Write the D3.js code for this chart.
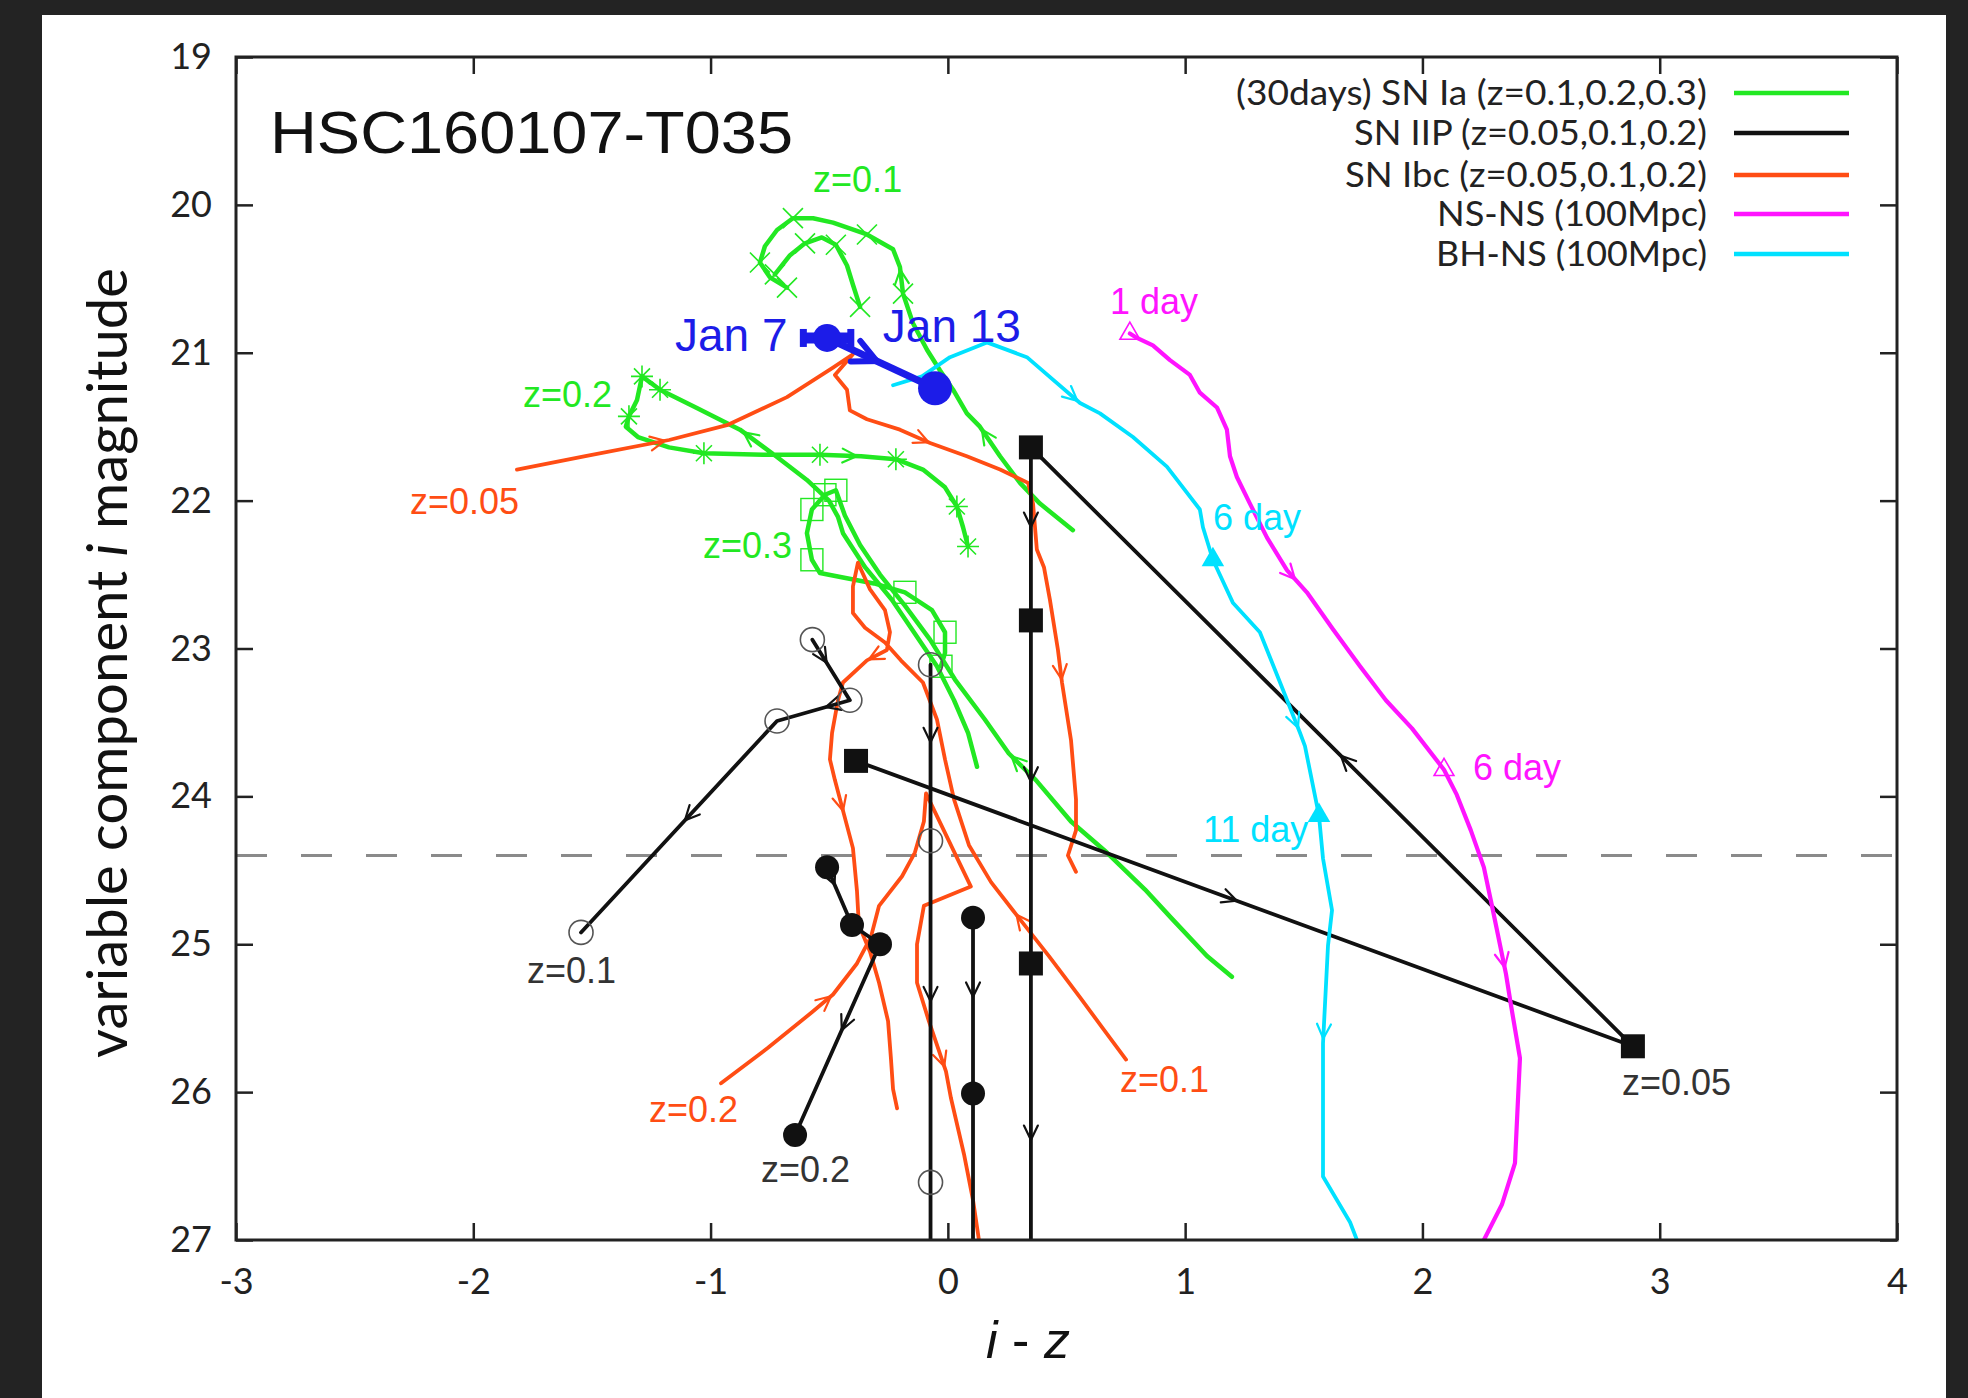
<!DOCTYPE html>
<html>
<head>
<meta charset="utf-8">
<script src="https://cdn.jsdelivr.net/npm/d3@7"></script>
<style>
  body { margin: 0; background: #232323; }
  svg { display: block; }
  text { font-family: "Liberation Sans", Arial, sans-serif; }
  .tick text { font-family: Lato, "Open Sans", sans-serif; fill: #222; }
</style>
</head>
<body>
<svg id="chart" width="1968" height="1398"></svg>
<script>
// ---- data (i - z colour, i magnitude) ----
const xTicks = [-3, -2, -1, 0, 1, 2, 3, 4];
const yTicks = [19, 20, 21, 22, 23, 24, 25, 26, 27];
const limitMag = 24.4;

const legendLabels = ['(30days) SN Ia (z=0.1,0.2,0.3)', 'SN IIP (z=0.05,0.1,0.2)',
  'SN Ibc (z=0.05,0.1,0.2)', 'NS-NS (100Mpc)', 'BH-NS (100Mpc)'];

// SN Ia, z=0.1 (two arcs)
const iaZ01Outer = [[0.527,22.20],[0.388,22.02],[0.304,21.88],[0.220,21.70],[0.135,21.50],[0.080,21.41],
  [0.022,21.25],[-0.033,21.12],[-0.088,20.98],[-0.147,20.80],[-0.189,20.60],[-0.202,20.42],[-0.231,20.30],
  [-0.341,20.20],[-0.484,20.12],[-0.568,20.09],[-0.653,20.09],[-0.720,20.17],[-0.771,20.28],[-0.792,20.39],
  [-0.750,20.49],[-0.678,20.56]];
const iaZ01OuterMarks = [10, 13, 16, 19, 21];
const iaZ01OuterArrows = [[3, 0.9], [10, 0.9]];
const iaZ01Inner = [[-0.729,20.47],[-0.665,20.34],[-0.602,20.26],[-0.531,20.22],[-0.472,20.27],
  [-0.425,20.41],[-0.400,20.54],[-0.370,20.69]];
const iaZ01InnerMarks = [0, 2, 4, 7];

// SN Ia, z=0.2
const iaZ02 = [[0.123,23.80],[0.085,23.57],[0.026,23.35],[-0.046,23.12],[-0.143,22.89],[-0.236,22.67],
  [-0.349,22.45],[-0.442,22.22],[-0.463,22.11],[-0.501,22.00],[-0.594,21.86],[-0.724,21.70],[-0.876,21.52],
  [-1.062,21.37],[-1.213,21.25],[-1.289,21.16],[-1.310,21.32],[-1.344,21.43],[-1.357,21.50],[-1.306,21.57],
  [-1.175,21.64],[-1.028,21.68],[-0.779,21.69],[-0.539,21.69],[-0.366,21.70],[-0.219,21.72],[-0.105,21.79],
  [-0.012,21.91],[0.038,22.04],[0.064,22.18],[0.085,22.31]];
const iaZ02Marks = [14, 15, 17, 21, 23, 25, 28, 30];
const iaZ02Arrows = [[11, 0.9], [23, 0.9]];

// SN Ia, z=0.3
const iaZ03 = [[1.197,25.22],[1.092,25.08],[0.940,24.82],[0.831,24.63],[0.670,24.38],[0.519,24.17],
  [0.371,23.89],[0.257,23.71],[0.156,23.48],[0.030,23.21],[-0.075,22.94],[-0.181,22.71],[-0.286,22.50],
  [-0.370,22.30],[-0.434,22.10],[-0.472,21.93],[-0.518,21.96],[-0.573,22.06],[-0.594,22.22],[-0.573,22.40],
  [-0.539,22.49],[-0.442,22.52],[-0.311,22.56],[-0.181,22.62],[-0.067,22.74],[-0.012,22.89],[-0.012,23.03],
  [-0.029,23.12]];
const iaZ03Marks = [15, 16, 17, 19, 23, 25, 27];
const iaZ03Arrows = [[6, 0.9]];

// SN IIP
const iipZ005 = [[-0.387,23.76],[2.887,25.69],[0.350,21.64],[0.350,22.81],[0.350,25.13],[0.350,27.3]];
const iipZ005Marks = [0, 1, 2, 3, 4];
const iipZ005Arrows = [[0, 0.49], [1, 0.485], [2, 0.46], [3, 0.47], [4, 0.55]];
const iipZ01a = [[-0.571,22.94],[-0.413,23.35],[-0.720,23.49],[-1.546,24.92]];
const iipZ01aArrows = [[0, 0.38], [1, 0.33], [2, 0.47]];
const iipZ01b = [[-0.073,23.11],[-0.073,24.30],[-0.073,26.61],[-0.073,27.3]];
const iipZ01bArrows = [[0, 0.44], [1, 0.47]];
const iipZ02a = [[-0.509,24.48],[-0.404,24.87],[-0.286,25.00],[-0.644,26.29]];
const iipZ02aArrows = [[0, 0.3], [2, 0.45]];
const iipZ02b = [[0.106,24.82],[0.106,26.01],[0.106,27.3]];
const iipZ02bArrows = [[0, 0.45]];

// SN Ibc
const ibcZ005 = [[-1.816,21.79],[-1.533,21.70],[-1.175,21.59],[-0.931,21.49],[-0.678,21.30],[-0.484,21.10],
  [-0.400,21.01],[-0.476,21.15],[-0.425,21.25],[-0.413,21.39],[-0.341,21.45],[-0.202,21.52],[-0.075,21.61],
  [0.080,21.70],[0.220,21.79],[0.338,21.88],[0.359,22.02],[0.375,22.33],[0.405,22.45],[0.430,22.67],
  [0.464,23.01],[0.481,23.23],[0.519,23.62],[0.540,24.02],[0.540,24.23],[0.506,24.40],[0.540,24.51]];
const ibcZ005Arrows = [[1, 0.95], [11, 0.95], [20, 0.9]];
const ibcZ01 = [[0.751,25.78],[0.654,25.57],[0.557,25.36],[0.426,25.08],[0.274,24.77],[0.182,24.58],
  [0.089,24.33],[0.026,24.02],[-0.012,23.75],[-0.046,23.48],[-0.105,23.23],[-0.198,23.08],[-0.265,22.96],
  [-0.349,22.86],[-0.400,22.76],[-0.400,22.58],[-0.379,22.42],[-0.328,22.60],[-0.265,22.74],[-0.244,22.89],
  [-0.257,23.01],[-0.341,23.08],[-0.442,23.23],[-0.463,23.35],[-0.488,23.57],[-0.497,23.75],[-0.476,23.89],
  [-0.438,24.12],[-0.400,24.35],[-0.383,24.64],[-0.375,24.87],[-0.328,25.05],[-0.290,25.26],[-0.252,25.52],
  [-0.240,25.77],[-0.231,25.98],[-0.214,26.11]];
const ibcZ01Arrows = [[3, 0.9], [20, 0.9], [26, 0.9]];
const ibcZ02 = [[-0.956,25.94],[-0.758,25.70],[-0.573,25.46],[-0.484,25.34],[-0.383,25.13],[-0.324,24.95],
  [-0.290,24.74],[-0.193,24.54],[-0.139,24.38],[-0.101,24.17],[-0.092,23.98],[0.097,24.61],[-0.101,24.74],
  [-0.130,25.00],[-0.130,25.26],[-0.080,25.52],[-0.008,25.86],[0.013,26.04],[0.068,26.42],[0.106,26.73],
  [0.131,27.0]];
const ibcZ02Arrows = [[2, 0.9], [15, 0.9]];

// kilonovae at 100 Mpc
const nsns = [[0.767,20.87],[0.797,20.90],[0.864,20.95],[0.936,21.05],[1.020,21.15],[1.062,21.27],
  [1.134,21.37],[1.176,21.52],[1.189,21.70],[1.218,21.84],[1.273,22.02],[1.345,22.25],[1.429,22.47],
  [1.513,22.62],[1.623,22.87],[1.737,23.12],[1.846,23.35],[1.956,23.54],[2.091,23.82],[2.145,23.99],
  [2.204,24.23],[2.259,24.48],[2.297,24.77],[2.352,25.20],[2.373,25.41],[2.411,25.77],[2.390,26.48],
  [2.335,26.76],[2.259,27.0]];
const nsnsMarks = [0, 18];
const nsnsArrows = [[12, 0.4], [22, 0.9]];
const bhns = [[-0.231,21.22],[-0.109,21.16],[0.009,21.03],[0.165,20.93],[0.333,21.03],[0.557,21.34],
  [0.641,21.41],[0.780,21.57],[0.923,21.77],[1.062,22.06],[1.075,22.18],[1.117,22.40],[1.201,22.69],
  [1.315,22.89],[1.400,23.23],[1.484,23.57],[1.505,23.66],[1.564,24.13],[1.581,24.42],[1.619,24.77],
  [1.602,25.01],[1.581,25.67],[1.581,26.57],[1.695,26.88],[1.724,27.0]];
const bhnsMarks = [11, 17];
const bhnsArrows = [[4, 0.95], [14, 0.9], [20, 0.95]];

// HSC160107-T035 observations
const obsDates = ['Jan 7', 'Jan 13'];
const obsColour = [-0.509, -0.054];
const obsMag = [20.90, 21.24];
const obsColourErr = [0.10, 0];

// text labels placed at data coordinates
const trackLabels = [
  { text: 'z=0.1', x: -0.568, y: 19.91, c: 'green' },
  { text: 'z=0.2', x: -1.791, y: 21.37, c: 'green' },
  { text: 'z=0.3', x: -1.032, y: 22.39, c: 'green' },
  { text: 'z=0.05', x: -2.267, y: 22.09, c: 'orange' },
  { text: 'z=0.1', x: 0.725, y: 26.00, c: 'orange' },
  { text: 'z=0.2', x: -1.260, y: 26.20, c: 'orange' },
  { text: 'z=0.1', x: -1.774, y: 25.26, c: 'grey' },
  { text: 'z=0.2', x: -0.788, y: 26.61, c: 'grey' },
  { text: 'z=0.05', x: 2.841, y: 26.02, c: 'grey' },
  { text: '1 day', x: 0.683, y: 20.74, c: 'magenta' },
  { text: '6 day', x: 2.213, y: 23.89, c: 'magenta' },
  { text: '6 day', x: 1.117, y: 22.20, c: 'cyan' },
  { text: '11 day', x: 1.075, y: 24.31, c: 'cyan' }
];

// ---- styles ----
const C = { green: '#22e822', black: '#111', orange: '#ff4d14', magenta: '#ff14ff',
  cyan: '#00e1ff', blue: '#1c1ce8', grey: '#333' };
const legendColors = [C.green, C.black, C.orange, C.magenta, C.cyan];

const svg = d3.select('#chart');
svg.append('rect').attr('width', 1968).attr('height', 1398).attr('fill', '#232323');
svg.append('rect').attr('x', 42).attr('y', 15).attr('width', 1904).attr('height', 1383).attr('fill', '#fff');

const x = d3.scaleLinear().domain([-3, 4]).range([236, 1897]);
const y = d3.scaleLinear().domain([19, 27]).range([57, 1240]);

svg.append('clipPath').attr('id', 'plotClip').append('rect')
  .attr('x', x(-3)).attr('y', y(19)).attr('width', x(4) - x(-3)).attr('height', y(27) - y(19));
const plot = svg.append('g').attr('clip-path', 'url(#plotClip)');

// detection limit
plot.append('line')
  .attr('x1', x(-3)).attr('x2', x(4)).attr('y1', y(limitMag)).attr('y2', y(limitMag))
  .attr('stroke', '#8a8a8a').attr('stroke-width', 3).attr('stroke-dasharray', '31,34');

const line = d3.line().x(d => x(d[0])).y(d => y(d[1]));

function chevron(g, pts, seg, t, color, w, len) {
  const a = pts[seg], b = pts[seg + 1];
  const ax = x(a[0]), ay = y(a[1]), bx = x(b[0]), by = y(b[1]);
  const px = ax + (bx - ax) * t, py = ay + (by - ay) * t;
  const ang = Math.atan2(by - ay, bx - ax), s = 0.45;
  const p1 = [px - len * Math.cos(ang - s), py - len * Math.sin(ang - s)];
  const p2 = [px - len * Math.cos(ang + s), py - len * Math.sin(ang + s)];
  g.append('path').attr('d', `M${p1}L${px},${py}L${p2}`)
    .attr('fill', 'none').attr('stroke', color).attr('stroke-width', w)
    .attr('stroke-linecap', 'round').attr('stroke-linejoin', 'miter');
}

function marker(g, d, kind, color) {
  const cx = x(d[0]), cy = y(d[1]);
  if (kind === 'cross') {
    const s = 10;
    g.append('path').attr('d', `M${cx - s},${cy - s}L${cx + s},${cy + s}M${cx - s},${cy + s}L${cx + s},${cy - s}`)
      .attr('stroke', color).attr('stroke-width', 1.6);
  } else if (kind === 'star') {
    const s = 8, r = 11;
    g.append('path').attr('d', `M${cx - s},${cy - s}L${cx + s},${cy + s}M${cx - s},${cy + s}L${cx + s},${cy - s}M${cx - r},${cy}L${cx + r},${cy}M${cx},${cy - r}L${cx},${cy + r}`)
      .attr('stroke', color).attr('stroke-width', 1.6);
  } else if (kind === 'square') {
    g.append('rect').attr('x', cx - 11).attr('y', cy - 11).attr('width', 22).attr('height', 22)
      .attr('fill', 'none').attr('stroke', color).attr('stroke-width', 1.4);
  } else if (kind === 'fsquare') {
    g.append('rect').attr('x', cx - 12).attr('y', cy - 12).attr('width', 24).attr('height', 24).attr('fill', color);
  } else if (kind === 'ocircle') {
    g.append('circle').attr('cx', cx).attr('cy', cy).attr('r', 12)
      .attr('fill', 'none').attr('stroke', '#555').attr('stroke-width', 1.6);
  } else if (kind === 'fcircle') {
    g.append('circle').attr('cx', cx).attr('cy', cy).attr('r', 12).attr('fill', color);
  } else if (kind === 'otri') {
    g.append('path').attr('d', d3.symbol(d3.symbolTriangle, 170)())
      .attr('transform', `translate(${cx},${cy})`)
      .attr('fill', 'none').attr('stroke', color).attr('stroke-width', 1.6);
  } else if (kind === 'ftri') {
    g.append('path').attr('d', d3.symbol(d3.symbolTriangle, 220)())
      .attr('transform', `translate(${cx},${cy})`).attr('fill', color);
  }
}

const tracks = [
  { pts: iaZ01Outer, color: C.green, w: 4.5, marks: iaZ01OuterMarks, kind: 'cross', arrows: iaZ01OuterArrows },
  { pts: iaZ01Inner, color: C.green, w: 4.5, marks: iaZ01InnerMarks, kind: 'cross', arrows: [] },
  { pts: iaZ02, color: C.green, w: 4.5, marks: iaZ02Marks, kind: 'star', arrows: iaZ02Arrows },
  { pts: iaZ03, color: C.green, w: 4.5, marks: iaZ03Marks, kind: 'square', arrows: iaZ03Arrows },
  { pts: ibcZ005, color: C.orange, w: 3.8, marks: [], kind: null, arrows: ibcZ005Arrows },
  { pts: ibcZ01, color: C.orange, w: 3.8, marks: [], kind: null, arrows: ibcZ01Arrows },
  { pts: ibcZ02, color: C.orange, w: 3.8, marks: [], kind: null, arrows: ibcZ02Arrows },
  { pts: iipZ01a, color: C.black, w: 3.8, marks: [0, 1, 2, 3], kind: 'ocircle', arrows: iipZ01aArrows },
  { pts: iipZ01b, color: C.black, w: 3.8, marks: [0, 1, 2], kind: 'ocircle', arrows: iipZ01bArrows },
  { pts: iipZ02a, color: C.black, w: 3.8, marks: [0, 1, 2, 3], kind: 'fcircle', arrows: iipZ02aArrows },
  { pts: iipZ02b, color: C.black, w: 3.8, marks: [0, 1], kind: 'fcircle', arrows: iipZ02bArrows },
  { pts: iipZ005, color: C.black, w: 3.8, marks: iipZ005Marks, kind: 'fsquare', arrows: iipZ005Arrows },
  { pts: bhns, color: C.cyan, w: 3.8, marks: bhnsMarks, kind: 'ftri', arrows: bhnsArrows },
  { pts: nsns, color: C.magenta, w: 4.2, marks: nsnsMarks, kind: 'otri', arrows: nsnsArrows }
];

tracks.forEach(tr => {
  const g = plot.append('g');
  g.append('path').attr('d', line(tr.pts)).attr('fill', 'none')
    .attr('stroke', tr.color).attr('stroke-width', tr.w)
    .attr('stroke-linejoin', 'round').attr('stroke-linecap', 'round');
  tr.arrows.forEach(([i, t]) => chevron(g, tr.pts, i, t, tr.color, 2.2, 16));
  tr.marks.forEach(i => marker(g, tr.pts[i], tr.kind, tr.color));
});

// observed colour evolution
const obs = obsDates.map((d, i) => [obsColour[i], obsMag[i]]);
const og = plot.append('g');
og.append('path').attr('d', line(obs)).attr('stroke', C.blue).attr('stroke-width', 7).attr('fill', 'none');
chevron(og, obs, 0, 0.46, C.blue, 6, 26);
obs.forEach((d, i) => {
  if (obsColourErr[i] > 0) {
    const yy = y(d[1]), x0 = x(d[0] - obsColourErr[i]), x1 = x(d[0] + obsColourErr[i]);
    og.append('line').attr('x1', x0).attr('x2', x1).attr('y1', yy).attr('y2', yy)
      .attr('stroke', C.blue).attr('stroke-width', 11);
    [x0, x1].forEach(xx => og.append('line').attr('x1', xx).attr('x2', xx)
      .attr('y1', yy - 9).attr('y2', yy + 9).attr('stroke', C.blue).attr('stroke-width', 7));
  }
  og.append('circle').attr('cx', x(d[0])).attr('cy', y(d[1])).attr('r', i === 0 ? 14 : 17).attr('fill', C.blue);
});

// axes
const fmt = d => String(d);
const axB = svg.append('g').attr('transform', `translate(0,${y(27)})`)
  .call(d3.axisBottom(x).tickValues(xTicks).tickFormat(fmt).tickSize(-17).tickPadding(28));
const axT = svg.append('g').attr('transform', `translate(0,${y(19)})`)
  .call(d3.axisTop(x).tickValues(xTicks).tickFormat('').tickSize(-17));
const axL = svg.append('g').attr('transform', `translate(${x(-3)},0)`)
  .call(d3.axisLeft(y).tickValues(yTicks).tickFormat(fmt).tickSize(-17).tickPadding(24));
const axR = svg.append('g').attr('transform', `translate(${x(4)},0)`)
  .call(d3.axisRight(y).tickValues(yTicks).tickFormat('').tickSize(-17));
[axB, axT, axL, axR].forEach(a => {
  a.select('.domain').remove();
  a.selectAll('.tick line').attr('stroke', '#222').attr('stroke-width', 2.5);
  a.selectAll('.tick text').attr('font-size', 36);
});

svg.append('rect').attr('x', x(-3)).attr('y', y(19)).attr('width', x(4) - x(-3)).attr('height', y(27) - y(19))
  .attr('fill', 'none').attr('stroke', '#222').attr('stroke-width', 3);

// axis titles
svg.append('text').attr('x', 1028).attr('y', 1358).attr('text-anchor', 'middle')
  .attr('font-size', 52).attr('fill', '#111')
  .html('<tspan font-style="italic">i</tspan> - <tspan font-style="italic">z</tspan>');
svg.append('text').attr('transform', 'translate(127,663) rotate(-90)').attr('text-anchor', 'middle')
  .attr('font-size', 56).attr('fill', '#111').attr('textLength', 790).attr('lengthAdjust', 'spacingAndGlyphs')
  .style('font-family', 'Lato, sans-serif')
  .html('variable component <tspan font-style="italic">i</tspan> magnitude');

// title
svg.append('text').attr('x', 270).attr('y', 153).attr('font-size', 60).attr('fill', '#111')
  .attr('textLength', 523).attr('lengthAdjust', 'spacingAndGlyphs').text('HSC160107-T035');

// legend
const legendTextWidths = [471, 353, 362, 270, 271];
const legendRowY = [93, 133, 175, 214, 254];
const lg = svg.append('g');
legendLabels.forEach((lab, i) => {
  lg.append('line').attr('x1', 1734).attr('x2', 1849).attr('y1', legendRowY[i]).attr('y2', legendRowY[i])
    .attr('stroke', legendColors[i]).attr('stroke-width', 4.5);
  lg.append('text').attr('x', 1707).attr('y', legendRowY[i] + 12).attr('text-anchor', 'end')
    .attr('font-size', 35).attr('fill', '#222').style('font-family', 'Lato, sans-serif')
    .attr('textLength', legendTextWidths[i]).attr('lengthAdjust', 'spacingAndGlyphs').text(lab);
});

// curve annotations
const lab = svg.append('g');
trackLabels.forEach(d => {
  lab.append('text').attr('x', x(d.x)).attr('y', y(d.y)).attr('font-size', 36)
    .attr('fill', C[d.c]).text(d.text);
});
obsDates.forEach((d, i) => {
  const pos = i === 0 ? [-1.150, 20.99] : [-0.274, 20.93];
  lab.append('text').attr('x', x(pos[0])).attr('y', y(pos[1])).attr('font-size', 46)
    .attr('fill', C.blue).text(d);
});
</script>
</body>
</html>
